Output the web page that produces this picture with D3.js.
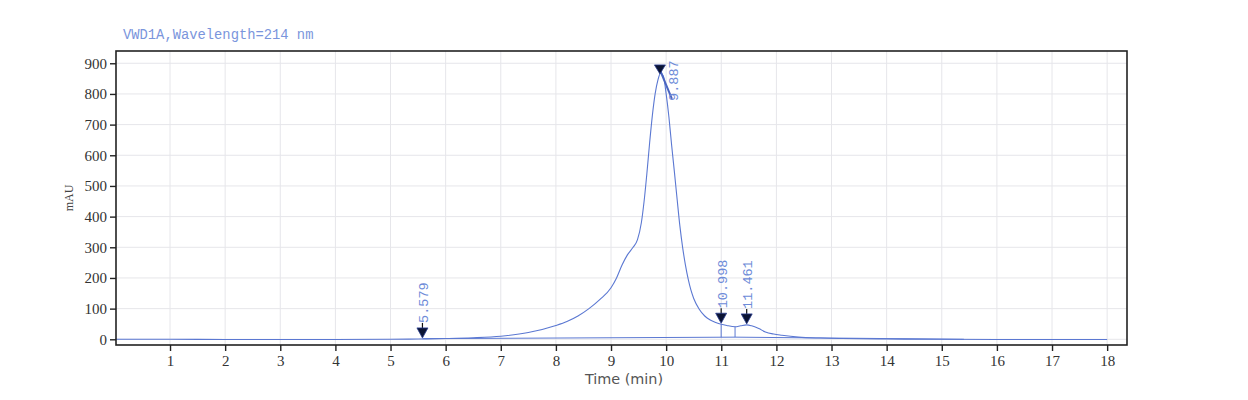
<!DOCTYPE html>
<html><head><meta charset="utf-8">
<script src="https://cdn.jsdelivr.net/npm/d3@7"></script>
<style>body{margin:0;background:#fff}svg{display:block}</style>
</head><body>
<svg id="c" width="1248" height="400"></svg>
<script>
// ---- data ----
const title = "VWD1A,Wavelength=214 nm";
const xTicks = [1,2,3,4,5,6,7,8,9,10,11,12,13,14,15,16,17,18];
const yTicks = [0,100,200,300,400,500,600,700,800,900];
const times = [0,1,2,3,4,5,5.5,6.0,6.5,7.0,7.5,8.0,8.2,8.4,8.6,8.8,9.0,9.1,9.2,9.3,9.4,9.48,9.55,9.6,9.65,9.7,9.75,9.8,9.85,9.9,9.95,10.0,10.05,10.1,10.15,10.2,10.25,10.3,10.35,10.4,10.45,10.5,10.6,10.7,10.8,10.9,11.0,11.1,11.25,11.35,11.46,11.55,11.68,11.8,11.95,12.1,12.4,12.8,13.2,14,15,16,17,18];
const mAU   = [0,0,-0.5,-0.5,-0.5,0,1,2.5,5,10,22,45,58,76,100,130,168,200,242,276,300,325,380,450,540,640,730,800,845,868,858,800,725,632,545,455,368,298,242,196,160,133,98,76,63,55,49,45,41,44,47,44,35,24,17,13,7,4,2.5,1,0,-0.5,-0.5,-0.5];
const peakTimes  = [5.579, 9.887, 10.998, 11.461];
const peakLabels = ["5.579", "9.887", "10.998", "11.461"];
const baselineT = [5.579, 11.25, 15.4];
const baselineV = [2, 7, 0];
const dropTimes = [10.998, 11.25];

// ---- scales ----
const svg = d3.select("#c");
const x = d3.scaleLinear().domain([0.02, 18.36]).range([116, 1127]);
const y = d3.scaleLinear().domain([-18.6, 940]).range([345, 51]);
const lineBlue = "#5b78d2", labelBlue = "#6d8bd8";

function valAt(t){
  const i = d3.bisectLeft(times, t);
  if (i <= 0) return mAU[0];
  if (i >= times.length) return mAU[mAU.length-1];
  const t0 = times[i-1], t1 = times[i];
  return mAU[i-1] + (mAU[i]-mAU[i-1])*(t-t0)/(t1-t0);
}
function baseAt(t){
  const i = Math.min(Math.max(d3.bisectLeft(baselineT, t),1), baselineT.length-1);
  const t0 = baselineT[i-1], t1 = baselineT[i];
  return baselineV[i-1] + (baselineV[i]-baselineV[i-1])*(t-t0)/(t1-t0);
}

// grid
const g = svg.append("g");
g.selectAll(".gx").data(xTicks).join("line")
  .attr("x1", d=>x(d)).attr("x2", d=>x(d)).attr("y1", 51).attr("y2", 345)
  .attr("stroke", "#e6e6ea").attr("stroke-width", 1);
g.selectAll(".gy").data(yTicks).join("line")
  .attr("x1", 116).attr("x2", 1127).attr("y1", d=>y(d)).attr("y2", d=>y(d))
  .attr("stroke", "#e6e6ea").attr("stroke-width", 1);

// trace
const pts = times.map((t,i)=>[t, mAU[i]]);
svg.append("path").datum(pts)
  .attr("d", d3.line().x(d=>x(d[0])).y(d=>y(d[1])).curve(d3.curveMonotoneX))
  .attr("fill","none").attr("stroke", lineBlue).attr("stroke-width", 1.1);

// integration baseline
svg.append("path").datum(baselineT.map((t,i)=>[t, baselineV[i]]))
  .attr("d", d3.line().x(d=>x(d[0])).y(d=>y(d[1])))
  .attr("fill","none").attr("stroke", lineBlue).attr("stroke-width", 1);

// drop lines
svg.selectAll(".drop").data(dropTimes).join("line")
  .attr("x1", d=>x(d)).attr("x2", d=>x(d))
  .attr("y1", d=>y(valAt(d))).attr("y2", d=>y(baseAt(d)))
  .attr("stroke", lineBlue).attr("stroke-width", 1);

// peak markers + labels
peakTimes.forEach((t,i)=>{
  const px = x(t), py = y(valAt(t));
  const tip = py - 1;
  const lab = svg.append("g");
  if (i === 1) {
    const lx = px + 12, ly = py + 24;
    lab.append("line").attr("x1", px).attr("y1", tip-4).attr("x2", lx).attr("y2", ly)
      .attr("stroke", "#4a64c0").attr("stroke-width", 2);
    lab.append("text").attr("transform", `translate(${lx+1},${ly+2}) rotate(-90)`)
      .attr("dy","0.35em").attr("text-anchor","start")
      .attr("font-family","Liberation Mono, DejaVu Sans Mono, monospace").attr("font-size", 13.5)
      .attr("fill", labelBlue).text(peakLabels[i]);
    lab.append("path").attr("d", `M${px-5.5},${tip-9}L${px+5.5},${tip-9}L${px},${tip}Z`)
      .attr("fill", "#0b1433").attr("stroke", "#2c3f90").attr("stroke-width", 0.8);
  } else {
    lab.append("line").attr("x1", px).attr("x2", px).attr("y1", tip-15).attr("y2", tip-9)
      .attr("stroke", "#111").attr("stroke-width", 1.2);
    lab.append("path").attr("d", `M${px-5.5},${tip-10}L${px+5.5},${tip-10}L${px},${tip}Z`)
      .attr("fill", "#0b1433").attr("stroke", "#2c3f90").attr("stroke-width", 0.8);
    lab.append("text").attr("transform", `translate(${px+1},${tip-15}) rotate(-90)`)
      .attr("dy","0.35em").attr("text-anchor","start")
      .attr("font-family","Liberation Mono, DejaVu Sans Mono, monospace").attr("font-size", 13.5)
      .attr("fill", labelBlue).text(peakLabels[i]);
  }
});

// frame
svg.append("rect").attr("x",116).attr("y",51).attr("width",1127-116).attr("height",345-51)
  .attr("fill","none").attr("stroke","#222").attr("stroke-width",1.6);

// axes
const xa = svg.append("g").attr("transform","translate(0,345)")
  .call(d3.axisBottom(x).tickValues(xTicks).tickSize(6).tickPadding(4).tickFormat(d3.format("d")));
const ya = svg.append("g").attr("transform","translate(116,0)")
  .call(d3.axisLeft(y).tickValues(yTicks).tickSize(6).tickPadding(3).tickFormat(d3.format("d")));
[xa, ya].forEach(a=>{
  a.select(".domain").remove();
  a.selectAll(".tick line").attr("stroke","#222").attr("stroke-width",1.4);
  a.selectAll("text").attr("font-family","Liberation Serif, DejaVu Serif, serif")
    .attr("font-size",15).attr("fill","#333");
});

// titles
svg.append("text").attr("x",123).attr("y",39)
  .attr("font-family","Liberation Mono, DejaVu Sans Mono, monospace").attr("font-size",13.8)
  .attr("fill","#7a95dc").text(title);
svg.append("text").attr("x",624).attr("y",384).attr("text-anchor","middle")
  .attr("font-family","DejaVu Sans, sans-serif").attr("font-size",14.4)
  .attr("fill","#555").text("Time (min)");
svg.append("text").attr("transform","translate(69,198) rotate(-90)").attr("text-anchor","middle")
  .attr("dy","0.35em")
  .attr("font-family","Liberation Serif, DejaVu Serif, serif").attr("font-size",12)
  .attr("fill","#444").text("mAU");
</script>
</body></html>
